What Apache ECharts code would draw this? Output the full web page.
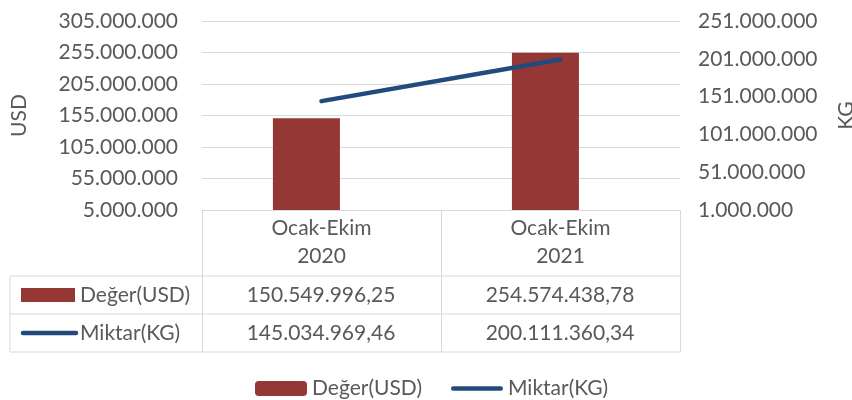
<!DOCTYPE html>
<html>
<head>
<meta charset="utf-8">
<script src="https://cdn.jsdelivr.net/npm/echarts@6/dist/echarts.min.js"></script>
<style>
  html, body { margin: 0; padding: 0; background: #fff; }
  #chart { width: 852px; height: 400px; }
</style>
</head>
<body>
<div id="chart"></div>
<script>
// data
const categories = ['Ocak-Ekim\n2020', 'Ocak-Ekim\n2021']
const seriesNames = ['Değer(USD)', 'Miktar(KG)']
const usdValues = [150549996.25, 254574438.78]
const kgValues = [145034969.46, 200111360.34]

const BAR_COLOR = '#953735'
const LINE_COLOR = '#234a7c'
const TEXT_COLOR = '#595959'
const GRID_COLOR = '#d9d9d9'
const FONT = 'Lato, sans-serif'
const FS = 21

// 1234567,5 -> 1.234.567,50
const fmtTR = (v, dec) => {
  const parts = v.toFixed(dec).split('.')
  const int = parts[0].replace(/\B(?=(\d{3})+(?!\d))/g, '.')
  return parts[1] ? int + ',' + parts[1] : int
}

const chart = echarts.init(document.getElementById('chart'))

// data table under the plot
const colX = [321, 560]
const rowY = [295, 333]
const tableValues = [usdValues, kgValues]
const tableGraphics = []
const hLines = [276, 314, 352]
hLines.forEach(y => {
  tableGraphics.push({
    type: 'line', shape: { x1: 10, y1: y, x2: 680, y2: y },
    style: { stroke: GRID_COLOR, lineWidth: 1 }, silent: true
  })
})
tableGraphics.push({
  type: 'line', shape: { x1: 10, y1: 276, x2: 10, y2: 352 },
  style: { stroke: GRID_COLOR, lineWidth: 1 }, silent: true
})
tableValues.forEach((vals, r) => {
  vals.forEach((v, c) => {
    tableGraphics.push({
      type: 'text', x: colX[c], y: rowY[r],
      style: {
        text: fmtTR(v, 2), fill: TEXT_COLOR, font: FS + 'px ' + FONT,
        align: 'center', verticalAlign: 'middle'
      }
    })
  })
  tableGraphics.push({
    type: 'text', x: 80, y: rowY[r],
    style: {
      text: seriesNames[r], fill: TEXT_COLOR, font: FS + 'px ' + FONT,
      align: 'left', verticalAlign: 'middle'
    }
  })
})
tableGraphics.push({
  type: 'rect', shape: { x: 21, y: 288, width: 54, height: 14 },
  style: { fill: BAR_COLOR }
})
tableGraphics.push({
  type: 'line', shape: { x1: 23, y1: 333, x2: 76, y2: 333 },
  style: { stroke: LINE_COLOR, lineWidth: 4.5, lineCap: 'round' }
})

const option = {
  backgroundColor: '#fff',
  textStyle: { fontFamily: FONT },
  grid: { left: 202, right: 172, top: 21, bottom: 190, outerBoundsMode: 'none' },
  legend: {
    data: [
      { name: seriesNames[0] },
      { name: seriesNames[1], icon: 'path://M2,0H50A2,2,0,0,1,50,4.5H2A2,2,0,0,1,2,0Z' }
    ],
    left: 250,
    top: 373,
    itemWidth: 52,
    itemHeight: 15,
    itemGap: 29,
    textStyle: { color: TEXT_COLOR, fontSize: FS, fontFamily: FONT }
  },
  xAxis: {
    type: 'category',
    data: categories,
    axisLine: { lineStyle: { color: GRID_COLOR } },
    axisTick: { show: true, length: 142, lineStyle: { color: GRID_COLOR } },
    axisLabel: {
      color: TEXT_COLOR, fontSize: FS, lineHeight: 28, margin: 4, fontFamily: FONT
    }
  },
  yAxis: [
    {
      type: 'value',
      min: 5000000,
      max: 305000000,
      interval: 50000000,
      name: 'USD',
      nameLocation: 'middle',
      nameGap: 172,
      nameTextStyle: { color: TEXT_COLOR, fontSize: FS, fontFamily: FONT },
      axisLine: { show: false },
      axisTick: { show: false },
      axisLabel: { color: TEXT_COLOR, fontSize: FS, margin: 24, formatter: v => fmtTR(v, 0) },
      splitLine: { lineStyle: { color: GRID_COLOR, width: 1 } }
    },
    {
      type: 'value',
      min: 1000000,
      max: 251000000,
      interval: 50000000,
      name: 'KG',
      nameLocation: 'middle',
      nameGap: 156,
      nameTextStyle: { color: TEXT_COLOR, fontSize: FS, fontFamily: FONT },
      axisLine: { show: false },
      axisTick: { show: false },
      axisLabel: { color: TEXT_COLOR, fontSize: FS, margin: 18, formatter: v => fmtTR(v, 0) },
      splitLine: { show: false }
    }
  ],
  series: [
    {
      name: seriesNames[0],
      type: 'bar',
      data: usdValues,
      barWidth: 67,
      barGap: '-55%',
      itemStyle: { color: BAR_COLOR },
      animation: false
    },
    {
      // empty slot next to the bars, as in the original chart
      type: 'bar',
      data: [],
      barWidth: 67,
      silent: true,
      animation: false
    },
    {
      name: seriesNames[1],
      type: 'line',
      yAxisIndex: 1,
      data: kgValues,
      symbol: 'none',
      lineStyle: { color: LINE_COLOR, width: 4.5, cap: 'round' },
      itemStyle: { color: LINE_COLOR },
      animation: false
    }
  ],
  graphic: tableGraphics
}

chart.setOption(option)
window.addEventListener('resize', () => chart.resize())
</script>
</body>
</html>
